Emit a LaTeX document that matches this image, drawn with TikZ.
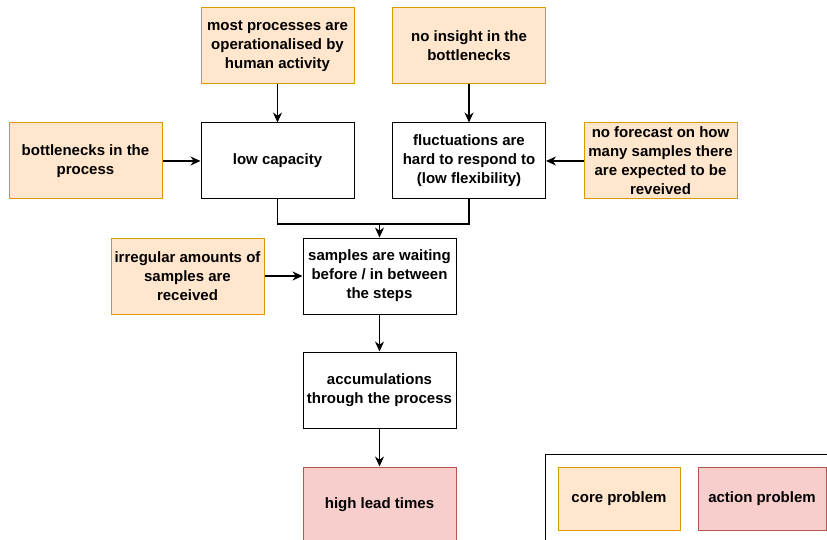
\documentclass[tikz,border=0pt]{standalone}
\usepackage{fontspec}
\setmainfont{Liberation Sans}
\usepackage{tikz}
\usetikzlibrary{arrows.meta}

\definecolor{coreFill}{HTML}{FFE6CC}
\definecolor{coreLine}{HTML}{D79B00}
\definecolor{actFill}{HTML}{F8CECC}
\definecolor{actLine}{HTML}{B85450}

\tikzset{
  box/.style={draw, line width=1pt, minimum width=153pt, minimum height=76pt,
    align=center, inner sep=1pt,
    font=\bfseries\fontsize{15}{19}\selectfont},
  corebox/.style={box, fill=coreFill, draw=coreLine},
  actbox/.style={box, fill=actFill, draw=actLine},
  link/.style={line width=1.1pt, -{Stealth[length=10pt,width=9pt]}}
}

\begin{document}
\begin{tikzpicture}[x=1pt,y=-1pt]
\useasboundingbox (0,0) rectangle (827,540);

% top row
\node[corebox] (human) at (277.5,46) {most processes are\\operationalised by\\human activity};
\node[corebox] (insight) at (469,46) {no insight in the\\bottlenecks};

% second row
\node[corebox] (bneck) at (85.5,161) {bottlenecks in the\\process};
\node[box] (lowcap) at (277.5,161) {low capacity};
\node[box] (fluct) at (469,161) {fluctuations are\\hard to respond to\\(low flexibility)};
\node[corebox] (forecast) at (660.5,161) {no forecast on how\\many samples there\\are expected to be\\reveived};

% chain
\node[corebox] (irregular) at (187.5,276) {irregular amounts of\\samples are\\received};
\node[box] (waiting) at (379.5,276) {samples are waiting\\before / in between\\the steps};
\node[box] (accum) at (379.5,390) {accumulations\\through the process};
\node[actbox] (lead) at (379.5,505) {high lead times};

% legend
\draw[line width=1pt] (545,454) rectangle (850,560);
\node[corebox, minimum width=122pt, minimum height=63pt] (corekey) at (619,498.5) {core problem};
\node[actbox, minimum width=128pt, minimum height=63pt] (actkey) at (762,498.5) {action problem};

\draw[link] (human) -- (lowcap);
\draw[link] (insight) -- (fluct);
\draw[link] (bneck) -- (lowcap);
\draw[link] (forecast) -- (fluct);
\coordinate (merge) at (379.5,224);
\draw[line width=1.1pt] (lowcap.south) |- (merge);
\draw[line width=1.1pt] (fluct.south) |- (merge);
\draw[link] (merge) -- (waiting);
\draw[link] (irregular) -- (waiting);
\draw[link] (waiting) -- (accum);
\draw[link] (accum) -- (lead);
\end{tikzpicture}
\end{document}
